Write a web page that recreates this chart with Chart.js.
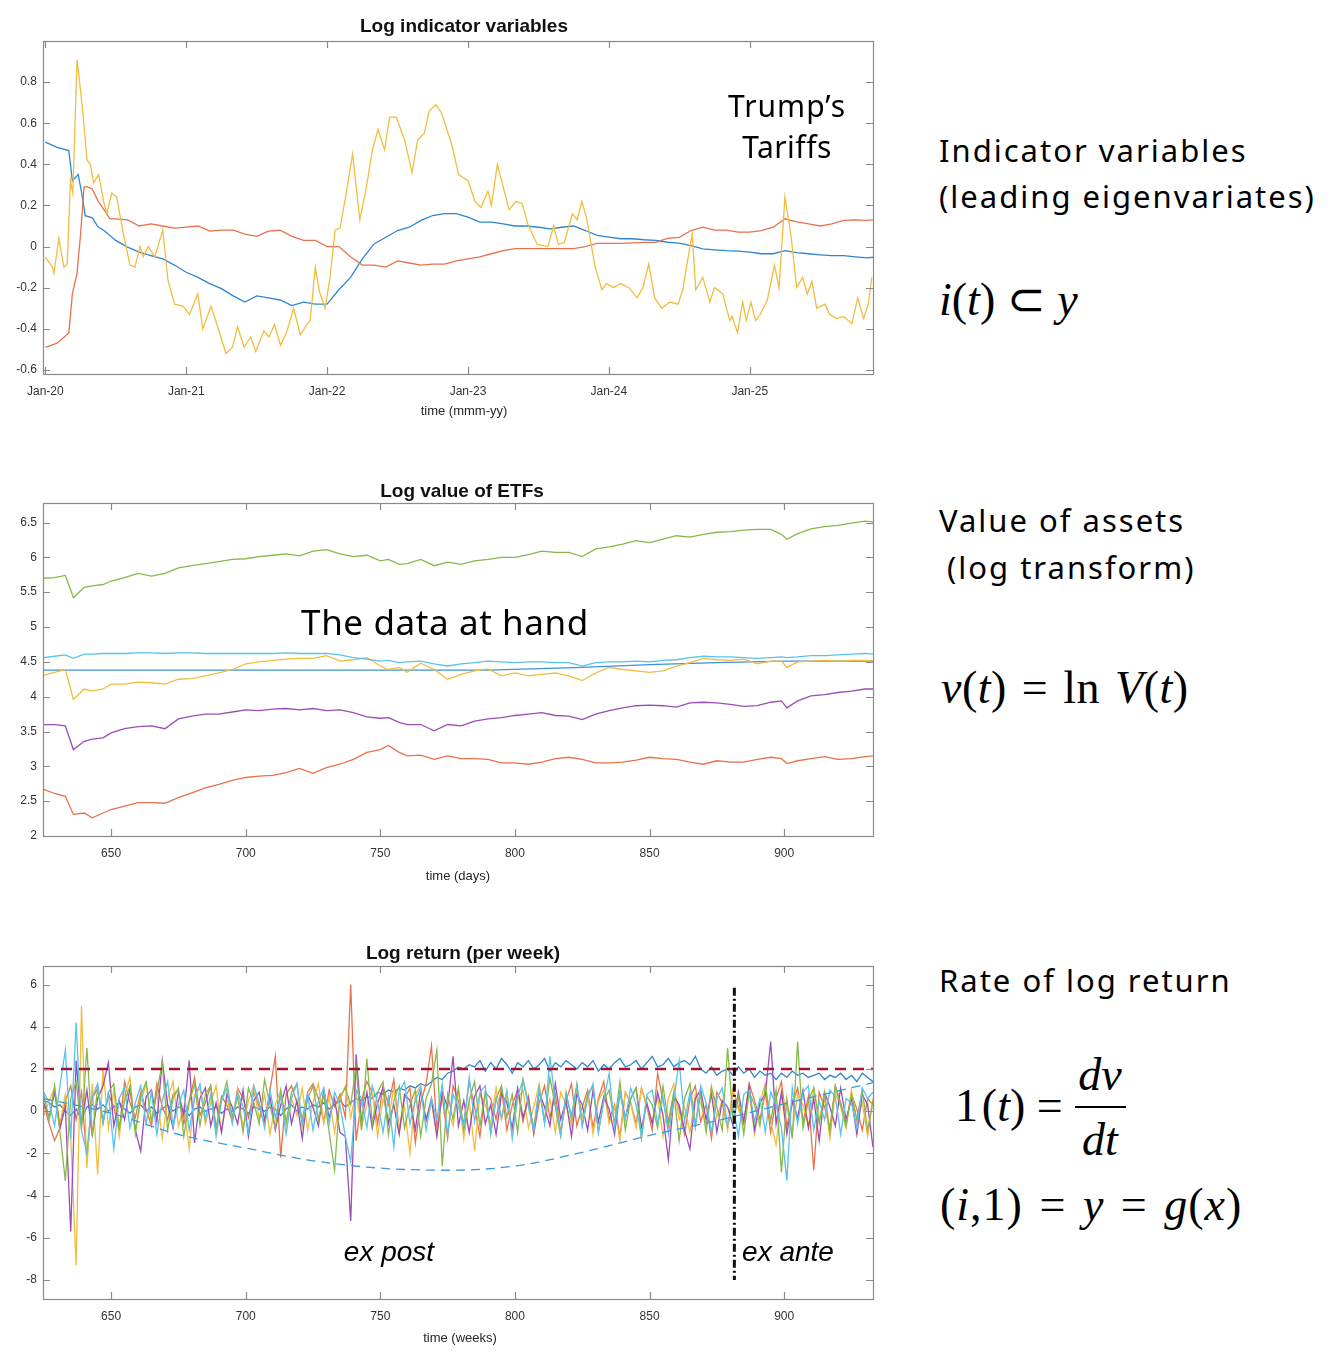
<!DOCTYPE html>
<html><head><meta charset="utf-8">
<script src="https://cdn.jsdelivr.net/npm/chart.js@4.4.1/dist/chart.umd.min.js"></script>
<style>
body{margin:0;background:#fff;width:1339px;height:1362px;position:relative;overflow:hidden;font-family:"Liberation Sans",Arial,sans-serif;}
canvas{position:absolute;left:0;}
.t{position:absolute;white-space:nowrap;color:#000;line-height:1;}
.c{transform:translate(-50%,-50%);}
.l{transform:translate(0,-50%);}
.ct{font-weight:bold;font-size:19px;color:#111;}
.at{font-size:13px;color:#262626;}
.side{font-family:"Noto Sans",sans-serif;font-size:31px;letter-spacing:2px;}
.ann{font-family:"Noto Sans",sans-serif;}
.it{font-family:"Liberation Sans",Arial,sans-serif;font-style:italic;font-size:28px;}
.math{font-family:"Liberation Serif","Times New Roman",serif;font-size:46px;}
.math i{font-style:italic;}
</style></head>
<body>
<canvas id="c1" width="890" height="400" style="top:30px"></canvas>
<canvas id="c2" width="890" height="400" style="top:492px"></canvas>
<canvas id="c3" width="890" height="400" style="top:955px"></canvas>

<div class="t c ct" style="left:464px;top:25px">Log indicator variables</div>
<div class="t c at" style="left:464px;top:410px">time (mmm-yy)</div>
<div class="t c ct" style="left:462px;top:490px">Log value of ETFs</div>
<div class="t c at" style="left:458px;top:875px">time (days)</div>
<div class="t c ct" style="left:463px;top:952px">Log return (per week)</div>
<div class="t c at" style="left:460px;top:1337px">time (weeks)</div>

<div class="t c ann" style="left:787px;top:106px;font-size:30px;letter-spacing:1px">Trump’s</div>
<div class="t c ann" style="left:787px;top:147px;font-size:30px;letter-spacing:0.5px">Tariffs</div>
<div class="t c ann" style="left:445px;top:621px;font-size:35px;letter-spacing:0.6px">The data at hand</div>
<div class="t c it" style="left:389px;top:1252px">ex post</div>
<div class="t c it" style="left:788px;top:1252px">ex ante</div>

<div class="t l side" style="left:939px;top:150px">Indicator variables</div>
<div class="t l side" style="left:939px;top:196px">(leading eigenvariates)</div>
<div class="t l math" style="left:939px;top:300px"><i>i</i>(<i>t</i>) ⊂ <i>y</i></div>
<div class="t l side" style="left:939px;top:520px">Value of assets</div>
<div class="t l side" style="left:947px;top:567px">(log transform)</div>
<div class="t l math" style="left:941px;top:688px;word-spacing:3px;letter-spacing:0.5px"><i>v</i>(<i>t</i>) = ln <i>V</i>(<i>t</i>)</div>
<div class="t l side" style="left:939px;top:980px">Rate of log return</div>
<div class="t l math" style="left:955px;top:1106px">1&#8202;(<i>t</i>) =</div>
<div class="t c math" style="left:1100px;top:1075px"><i>dv</i></div>
<div style="position:absolute;left:1075px;top:1106px;width:51px;height:2px;background:#000"></div>
<div class="t c math" style="left:1100px;top:1140px"><i>dt</i></div>
<div class="t l math" style="left:940px;top:1205px;word-spacing:4px;letter-spacing:1px">(<i>i</i>,1) = <i>y</i> = <i>g</i>(<i>x</i>)</div>

<script>
// ---------- Chart 1: Log indicator variables (x in months since Jan-20) ----------
const indTickMonths = [0, 12, 24, 36, 48, 60];
const indTickLabels = ['Jan-20', 'Jan-21', 'Jan-22', 'Jan-23', 'Jan-24', 'Jan-25'];
const indYTicks = [-0.6, -0.4, -0.2, 0, 0.2, 0.4, 0.6, 0.8];

const indBlueT = [0,1,2,2.3,2.8,3.1,3.4,4,4.5,5,6,7,8,9,10,11,12,13,14,15,16,17,18,19,20,21,22,23,24,25,26,27,28,29,30,31,32,33,34,35,36,37,38,39,40,41,42,43,44,45,46,47,48,49,50,51,52,53,54,55,56,57,58,59,60,61,62,63,64,65,66,67,68,69,70,70.5];
const indBlueV = [0.508,0.483,0.467,0.32,0.35,0.26,0.15,0.14,0.095,0.078,0.03,-0.003,-0.027,-0.044,-0.06,-0.09,-0.125,-0.15,-0.18,-0.205,-0.24,-0.27,-0.24,-0.25,-0.26,-0.287,-0.27,-0.28,-0.28,-0.21,-0.15,-0.06,0.013,0.045,0.078,0.094,0.127,0.151,0.16,0.16,0.143,0.119,0.119,0.11,0.10,0.10,0.094,0.086,0.094,0.10,0.078,0.054,0.046,0.038,0.038,0.033,0.03,0.021,0.017,0.005,-0.011,-0.016,-0.02,-0.022,-0.027,-0.035,-0.035,-0.02,-0.03,-0.035,-0.04,-0.044,-0.044,-0.05,-0.055,-0.052];

const indRedT = [0,1,2,2.3,2.7,3.0,3.3,3.6,4,4.5,5,5.5,6,7,8,9,10,11,12,13,14,15,16,17,18,19,20,21,22,23,24,25,26,27,28,29,30,31,32,33,34,35,36,37,38,39,40,41,42,43,44,45,46,47,48,49,50,51,52,53,54,55,56,57,58,59,60,61,62,63,64,65,66,67,68,69,70,70.5];
const indRedV = [-0.49,-0.47,-0.42,-0.23,-0.13,0.06,0.29,0.29,0.28,0.22,0.18,0.135,0.135,0.13,0.10,0.11,0.10,0.09,0.095,0.10,0.075,0.08,0.08,0.06,0.05,0.075,0.08,0.05,0.03,0.03,0.0,0.0,-0.05,-0.09,-0.09,-0.10,-0.07,-0.08,-0.09,-0.085,-0.085,-0.07,-0.06,-0.05,-0.035,-0.02,-0.01,-0.01,-0.01,-0.01,-0.01,-0.01,0.0,0.015,0.015,0.015,0.018,0.02,0.02,0.04,0.045,0.078,0.094,0.08,0.08,0.07,0.07,0.078,0.094,0.135,0.12,0.11,0.10,0.11,0.127,0.13,0.127,0.13];

const indYellowT = [0,0.59,0.73,1.15,1.58,1.86,2.14,2.34,2.70,3.13,3.55,3.83,4.11,4.54,4.96,5.24,5.66,6.08,6.65,7.21,7.63,8.06,8.34,8.76,9.32,10.0,10.45,11.01,11.72,12.28,12.99,13.41,14.11,14.68,15.38,15.94,16.37,16.93,17.49,17.92,18.62,19.04,19.52,20.03,20.54,21.15,21.72,22.28,22.56,22.99,23.35,23.83,24.25,24.68,25.1,25.66,26.17,26.79,27.35,27.86,28.34,28.9,29.32,29.89,30.59,31.24,31.72,32.28,32.7,33.27,33.75,34.6,35.2,36.0,36.6,37.1,37.7,38.0,38.5,39.0,39.5,40.1,40.6,41.1,41.9,42.8,43.3,43.7,44.2,44.9,45.3,45.7,46.1,46.8,47.4,47.8,48.4,49.0,49.7,50.4,50.9,51.4,51.9,52.5,53.2,53.9,54.3,54.7,55.1,55.4,56.0,56.6,57.0,57.7,58.3,58.5,58.96,59.4,59.7,60.1,60.5,60.9,61.5,62.1,62.5,63.0,63.5,64.0,64.5,64.9,65.3,65.7,66.4,66.8,67.4,68.0,68.7,69.2,69.7,70.1,70.4];
const indYellowV = [-0.05,-0.10,-0.13,0.04,-0.10,-0.085,0.32,0.26,0.91,0.69,0.42,0.40,0.31,0.35,0.22,0.16,0.26,0.24,0.06,-0.09,-0.10,0.0,-0.05,0.0,-0.05,0.08,-0.165,-0.28,-0.29,-0.33,-0.23,-0.40,-0.29,-0.39,-0.52,-0.49,-0.39,-0.49,-0.44,-0.51,-0.41,-0.44,-0.38,-0.48,-0.42,-0.30,-0.43,-0.38,-0.36,-0.10,-0.22,-0.30,-0.15,0.08,0.09,0.27,0.45,0.13,0.29,0.47,0.57,0.47,0.63,0.63,0.52,0.36,0.52,0.55,0.66,0.69,0.65,0.50,0.35,0.32,0.22,0.19,0.27,0.20,0.40,0.29,0.18,0.22,0.21,0.11,0.01,0.0,0.10,0.01,0.02,0.16,0.13,0.22,0.14,-0.09,-0.21,-0.18,-0.20,-0.18,-0.20,-0.25,-0.20,-0.085,-0.25,-0.30,-0.27,-0.28,-0.21,-0.07,0.06,-0.21,-0.15,-0.27,-0.20,-0.23,-0.36,-0.34,-0.42,-0.27,-0.36,-0.27,-0.36,-0.33,-0.26,-0.09,-0.20,0.24,0.06,-0.20,-0.15,-0.23,-0.17,-0.30,-0.28,-0.33,-0.35,-0.34,-0.375,-0.25,-0.35,-0.28,-0.15];

// ---------- Chart 2: Log value of ETFs (x in days) ----------
const dayTicks = [650, 700, 750, 800, 850, 900];
const etfYTicks = [2, 2.5, 3, 3.5, 4, 4.5, 5, 5.5, 6, 6.5];
const etfDays = [625,629,633,636,640,643,647,650,655,660,665,670,675,680,685,690,695,700,705,710,715,720,725,730,735,740,745,750,753,757,760,765,770,775,780,785,790,795,800,805,810,815,820,825,830,835,840,845,850,855,860,865,870,875,880,885,890,895,899,901,905,910,915,920,925,930,933];
const etfGreen = [5.70,5.71,5.74,5.42,5.57,5.59,5.61,5.66,5.71,5.77,5.73,5.77,5.85,5.88,5.91,5.94,5.97,5.98,6.01,6.03,6.05,6.02,6.09,6.11,6.05,6.01,6.03,5.95,5.97,5.90,5.91,5.97,5.88,5.93,5.90,5.95,5.97,6.00,6.00,6.04,6.09,6.07,6.07,6.01,6.12,6.15,6.19,6.24,6.21,6.26,6.31,6.29,6.33,6.36,6.37,6.39,6.40,6.40,6.33,6.26,6.34,6.41,6.44,6.46,6.49,6.52,6.51];
const etfCyan = [4.56,4.58,4.60,4.55,4.61,4.61,4.62,4.62,4.62,4.63,4.63,4.62,4.63,4.63,4.62,4.62,4.62,4.62,4.62,4.62,4.63,4.62,4.62,4.62,4.60,4.56,4.54,4.51,4.52,4.49,4.50,4.51,4.47,4.44,4.47,4.49,4.51,4.50,4.49,4.50,4.50,4.49,4.49,4.44,4.49,4.50,4.50,4.51,4.50,4.52,4.53,4.56,4.58,4.57,4.57,4.56,4.55,4.56,4.57,4.56,4.57,4.59,4.59,4.60,4.61,4.62,4.61];
const etfYellow = [4.31,4.35,4.39,3.96,4.11,4.08,4.11,4.18,4.18,4.21,4.20,4.18,4.25,4.26,4.30,4.34,4.39,4.47,4.50,4.52,4.54,4.55,4.55,4.59,4.51,4.53,4.56,4.44,4.39,4.42,4.35,4.48,4.39,4.25,4.32,4.37,4.40,4.30,4.34,4.30,4.32,4.34,4.30,4.23,4.34,4.42,4.39,4.37,4.35,4.37,4.44,4.49,4.55,4.53,4.52,4.54,4.47,4.51,4.51,4.42,4.50,4.51,4.52,4.51,4.52,4.52,4.51];
const etfPurple = [3.60,3.60,3.58,3.24,3.36,3.39,3.41,3.48,3.54,3.57,3.58,3.54,3.68,3.72,3.75,3.75,3.78,3.81,3.80,3.82,3.83,3.81,3.83,3.80,3.81,3.77,3.71,3.69,3.70,3.63,3.60,3.60,3.51,3.60,3.58,3.65,3.68,3.70,3.73,3.75,3.77,3.73,3.72,3.67,3.75,3.80,3.84,3.87,3.88,3.87,3.85,3.91,3.92,3.91,3.89,3.86,3.87,3.92,3.94,3.84,3.94,4.01,4.03,4.06,4.08,4.11,4.11];
const etfOrange = [2.67,2.61,2.57,2.31,2.33,2.26,2.33,2.38,2.43,2.48,2.48,2.47,2.55,2.62,2.69,2.74,2.80,2.84,2.86,2.87,2.91,2.97,2.90,2.98,3.03,3.10,3.20,3.24,3.30,3.20,3.15,3.16,3.10,3.15,3.11,3.11,3.10,3.05,3.05,3.03,3.06,3.11,3.13,3.10,3.05,3.05,3.06,3.09,3.13,3.11,3.10,3.06,3.03,3.08,3.06,3.06,3.10,3.13,3.11,3.04,3.08,3.11,3.14,3.10,3.11,3.14,3.15];
const etfFlatDays = [625, 790, 825, 850, 875, 900, 933];
const etfFlatBlue = [4.38, 4.38, 4.42, 4.46, 4.49, 4.51, 4.51];

// ---------- Chart 3: Log return (per week) ----------
const retYTicks = [-8, -6, -4, -2, 0, 2, 4, 6];
const retDays = Array.from({length: 155}, (_, i) => 625 + 2 * i);
const retOrange = [0.3,-0.6,-1.4,-0.8,0.5,1.2,-0.4,0.9,-2.3,0.6, 1.1,-0.5,0.8,0.2,-0.9,1.4,0.4,-0.3,0.9,0.1, -0.7,1.3,0.2,-0.4,0.8,1.0,-0.6,0.5,1.6,-0.2, 0.4,1.2,-0.8,0.7,0.3,-0.5,1.1,0.6,-0.3,0.9, 0.2,-0.6,1.0,2.6,-2.2,0.8,1.2,0.4,-0.4,0.9, 1.3,0.6,-0.5,1.0,0.2,0.8,-0.3,6.0,-1.4,0.5, 1.4,0.9,-0.6,1.2,0.3,1.5,-0.9,0.6,1.1,-1.5, 0.4,1.3,3.1,-0.8,0.7,-1.3,1.2,0.5,-0.6,1.4, 0.2,-1.2,0.9,0.6,-0.4,1.1,-0.9,0.3,1.0,-0.5, 0.7,-1.1,0.4,1.2,-0.3,0.8,-1.0,0.5,1.3,-0.7, 0.2,1.0,-0.8,0.6,1.4,-0.4,0.3,-1.2,0.9,0.4, -0.6,1.1,0.2,-0.9,1.8,0.5,-0.7,0.8,0.1,-1.1, 0.6,1.2,-0.5,0.3,-1.3,0.9,0.4,-0.8,1.0,0.2, -0.6,1.3,0.5,-0.4,0.9,-1.0,0.6,1.4,-0.7,0.3, 1.1,-0.5,0.7,-2.8,0.9,0.2,-0.8,1.2,0.4,-0.6, 0.8,0.1,-0.9,0.6,0.3];
const retYellow = [-0.2,0.5,1.1,-0.6,0.8,-1.2,-7.3,5.0,-2.7,1.3, -3.0,2.0,-0.8,1.0,-1.2,0.7,1.6,-0.9,0.4,1.3, -0.5,0.9,-1.3,0.6,1.4,-0.7,0.2,-1.8,0.8,1.1, -0.6,0.4,1.2,-1.0,0.6,-0.3,1.0,-0.8,0.5,1.2, -0.4,0.8,-1.1,0.3,1.0,-0.7,0.6,-0.2,1.1,-0.9, 0.4,1.3,-0.6,0.7,-1.0,0.5,1.2,-0.3,0.9,-0.8, 0.3,1.0,-1.2,0.6,-0.4,1.1,-0.9,0.2,-2.0,0.8, 1.2,-0.5,0.4,-1.1,0.9,0.1,-0.7,1.0,-1.3,0.5, -1.9,0.8,0.3,-0.6,1.1,-0.4,0.7,-1.2,0.6,1.0, -0.8,0.2,1.3,-0.5,0.6,-1.0,0.9,0.3,-0.7,1.2, -0.3,0.8,-1.1,0.5,1.0,-0.6,0.2,-1.4,0.9,0.4, -0.8,1.1,0.3,-0.5,0.7,-1.2,0.6,1.3,-0.4,0.2, -1.0,0.8,0.4,-0.7,1.2,-0.3,0.5,-0.9,1.0,0.1, -0.6,0.9,-1.1,0.4,1.3,-0.5,-1.6,0.7,0.2,-1.0, 0.8,0.3,-0.7,1.1,-0.4,0.6,-1.3,0.9,0.2,-0.8, 1.0,-0.5,0.4,-1.2,0.6];
const retPurple = [0.4,-0.3,0.9,-0.8,0.2,-5.7,2.4,-0.6,1.0,-1.1, 0.6,1.2,2.3,-0.7,0.5,-0.4,1.1,-0.9,-1.9,0.7, 1.0,-0.5,2.4,0.3,-0.8,0.9,-0.2,2.4,-1.5,0.6, 1.1,-0.7,0.4,-1.0,0.8,0.2,-0.6,1.0,-1.2,0.5, 0.9,-0.4,0.7,-0.9,0.3,1.2,-0.6,0.5,-1.3,0.8, 0.2,-0.7,1.0,-0.3,0.6,-1.0,-1.2,-5.2,2.7,-0.5, 0.9,-0.8,0.4,1.1,-0.6,0.3,-1.1,0.8,0.5,-0.9, 1.0,-0.4,0.6,-1.2,0.9,0.2,2.6,-0.7,0.5,-1.0, 0.7,1.2,-0.6,0.3,-1.1,0.8,0.4,-0.8,1.1,-0.3, 0.6,-1.0,0.9,0.2,-0.7,1.3,-0.4,0.5,-1.2,0.8, 0.3,-0.9,1.0,-0.5,0.7,0.1,-1.1,0.9,-0.3,0.6, 1.1,-0.8,0.4,-0.6,0.9,-0.2,-2.3,0.7,0.3,-0.9, -1.8,0.6,1.0,-0.4,0.8,-1.0,0.5,0.2,-0.7,0.9, -0.5,1.2,-0.9,0.4,0.8,3.3,-0.6,0.9,-1.1,0.5, -0.3,1.0,-0.8,0.6,-1.4,0.9,0.2,-0.7,1.1,-0.4, 0.6,-1.1,0.8,0.3,-1.7];
const retGreen = [0.8,-0.4,1.2,-1.0,-3.3,0.6,1.4,-0.9,3.0,-1.2, 1.1,-0.6,0.9,1.3,-0.8,0.5,1.2,-1.1,0.7,1.4, -0.5,0.9,2.3,-0.9,0.6,1.1,-1.2,0.4,1.3,-0.7, 0.8,1.2,-0.9,0.5,1.4,-0.3,0.7,-1.0,1.1,0.4, -0.6,1.5,0.3,-0.8,1.0,-0.5,0.9,1.3,-0.7,0.6, 1.2,-0.4,0.8,-1.0,-2.8,0.7,1.1,0.3,2.1,-0.9, 2.5,-0.6,0.9,1.4,-1.1,0.5,1.2,-0.8,0.3,1.0, -1.2,0.6,1.3,2.9,-2.6,0.8,-0.4,1.1,-0.9,0.5, 1.4,-0.7,0.9,-1.1,0.6,1.2,-0.3,0.8,-1.0,1.5, 0.4,-0.8,1.1,-0.5,1.6,0.2,-1.2,0.9,-0.4,1.3, -0.7,0.8,1.2,-1.0,0.5,1.0,-0.6,1.4,-0.9,0.6, 1.1,-1.3,0.7,0.3,-0.8,1.2,-0.5,0.9,-1.4,0.6, 1.3,-0.6,0.8,-1.0,1.1,0.2,-0.9,3.0,-0.4,0.7, -1.1,0.9,0.3,-0.7,1.2,-0.5,1.0,-2.9,0.6,-1.3, 3.3,-0.8,0.5,1.1,-0.6,0.9,-1.0,1.2,0.3,-0.7, 0.8,-0.4,1.0,-0.9,0.5];
const retCyan = [0.9,0.4,-0.7,1.2,2.9,-1.3,4.2,-0.9,-2.0,0.7, 1.3,-0.5,0.8,-1.8,0.6,1.1,-0.8,0.4,1.2,-0.6, 0.9,-1.1,0.5,1.4,-0.7,0.3,1.0,-0.9,0.6,1.3, -0.4,0.8,-1.2,0.5,1.1,-0.6,0.9,0.2,-1.0,1.2, 0.4,-0.8,1.0,-0.3,0.7,-1.1,0.6,1.3,-0.5,0.8, -0.9,0.5,1.1,-0.6,0.9,0.3,-1.2,-2.4,1.0,0.6, -0.8,1.2,0.4,-1.0,0.7,-1.7,0.9,1.4,-0.6,0.5, 1.1,-0.9,0.6,-0.4,1.3,-1.1,0.8,0.2,-0.7,1.6, -0.5,0.9,1.2,-1.0,0.6,-0.3,1.0,-1.3,0.7,1.5, 0.2,-0.9,1.1,-0.6,2.6,0.4,-1.1,0.8,-0.2,1.2, -0.7,0.6,1.3,-1.0,0.5,1.8,-0.8,0.9,-0.4,1.1, 0.3,-1.2,0.8,1.0,-0.6,0.7,-1.1,0.5,2.4,-0.5, 0.9,-0.8,1.2,0.4,-1.0,0.6,1.1,-0.7,0.3,-1.2, 0.8,1.0,-0.5,0.6,-1.0,0.9,0.3,-0.8,-3.3,1.1, -0.6,0.9,1.2,-0.9,0.5,-0.4,1.0,0.7,-1.1,0.6, 0.4,-0.8,1.1,0.6,0.9];
const retBlue = [0.5,0.4,0.2,0.3,0.0,-0.2,0.1,-0.4,0.2,0.3, 0.1,0.3,0.0,0.2,0.4,0.1,-0.1,0.2,0.3,0.0, 0.2,-0.1,0.1,0.3,0.0,0.2,0.1,-0.2,0.1,0.2, 0.0,0.1,0.2,-0.1,0.1,0.0,0.2,0.1,-0.1,0.2, 0.1,0.0,0.2,0.1,-0.2,0.1,0.3,0.0,0.2,0.1, 0.3,0.2,0.4,0.1,0.3,0.5,0.2,0.4,0.6,0.5, 0.7,0.6,0.9,0.8,1.0,0.9,1.1,1.0,1.2,1.1, 1.3,1.2,1.4,1.6,1.5,1.8,1.9,2.1,2.0,2.2, 2.1,2.4,1.9,2.3,2.0,2.5,2.2,1.8,2.3,2.1, 2.4,2.0,2.2,2.5,1.9,2.3,2.1,2.4,2.2,2.0, 2.3,2.1,2.4,1.9,2.2,2.0,2.3,2.5,2.1,2.2, 2.4,2.0,2.3,2.6,2.1,2.2,2.5,2.1,2.3,2.4, 2.2,2.6,2.0,1.8,2.1,1.7,1.9,2.0,1.7,2.1, 1.8,2.0,1.6,1.9,1.7,1.8,1.5,1.8,1.6,1.9, 1.7,1.8,1.6,1.7,1.8,1.5,1.7,1.6,1.8,1.5, 1.7,1.4,1.8,1.6,1.4];
const trendDays = [625, 650, 675, 700, 725, 750, 775, 800, 825, 850, 875, 900, 933];
const trendValues = [0.6, -0.1, -1.1, -1.75, -2.35, -2.7, -2.8, -2.6, -1.95, -1.15, -0.45, 0.35, 1.35];
const thresholdDays = [624.7, 933];
const thresholdValues = [2.0, 2.0];
const splitDays = [881.5, 881.5];
const splitValues = [5.85, -8.0];

// ---------- colours ----------
const C = {blue:'#2f86cf', orange:'#e8724c', yellow:'#f2bd3f', purple:'#9c4cb8', green:'#86b94a', cyan:'#57c3ee', red:'#a2142f'};

function pts(xs, ys) { return xs.map((x, i) => ({x: x, y: ys[i]})); }
function ds(xs, ys, color, extra) {
  return Object.assign({data: pts(xs, ys), borderColor: color, borderWidth: 1.3, pointRadius: 0, fill: false, tension: 0}, extra || {});
}

const boxPlugin = {
  id: 'matlabBox',
  afterDraw(chart) {
    const {ctx, chartArea: a} = chart;
    ctx.save();
    ctx.strokeStyle = '#8a8a8a';
    ctx.lineWidth = 1.2;
    ctx.strokeRect(a.left + 0.5, a.top + 0.5, a.right - a.left, a.bottom - a.top);
    const L = 7;
    ctx.beginPath();
    chart.scales.x.ticks.forEach(t => {
      const x = Math.round(chart.scales.x.getPixelForValue(t.value)) + 0.5;
      ctx.moveTo(x, a.bottom); ctx.lineTo(x, a.bottom - L);
      ctx.moveTo(x, a.top); ctx.lineTo(x, a.top + L);
    });
    chart.scales.y.ticks.forEach(t => {
      const y = Math.round(chart.scales.y.getPixelForValue(t.value)) + 0.5;
      ctx.moveTo(a.left, y); ctx.lineTo(a.left + L, y);
      ctx.moveTo(a.right, y); ctx.lineTo(a.right - L, y);
    });
    ctx.stroke();
    ctx.restore();
  }
};

function opts(xr, yr, xTicks, yTicks, xFmt, yFmt) {
  const tickFont = {family: '"Liberation Sans", Arial, sans-serif', size: 12};
  return {
    responsive: false, animation: false, devicePixelRatio: 1,
    layout: {padding: {top: 11, right: 17, left: 0, bottom: 0}},
    plugins: {legend: {display: false}, tooltip: {enabled: false}, title: {display: false}},
    scales: {
      x: {type: 'linear', min: xr[0], max: xr[1],
          grid: {display: false, drawTicks: false}, border: {display: false},
          afterBuildTicks: s => { s.ticks = xTicks.map(v => ({value: v})); },
          afterFit: s => { s.height = 56; s.paddingLeft = 0; s.paddingRight = 0; },
          ticks: {padding: 10, autoSkip: false, maxRotation: 0, color: '#333', font: tickFont,
                  callback: v => xFmt(v)}},
      y: {type: 'linear', min: yr[0], max: yr[1],
          grid: {display: false, drawTicks: false}, border: {display: false},
          afterBuildTicks: s => { s.ticks = yTicks.map(v => ({value: v})); },
          afterFit: s => { s.width = 43; s.paddingTop = 0; s.paddingBottom = 0; },
          ticks: {padding: 6, autoSkip: false, color: '#333', font: tickFont,
                  callback: v => yFmt(v)}}
    }
  };
}
const numFmt = v => String(Math.round(v * 10) / 10);

// Chart 1
new Chart(document.getElementById('c1'), {
  type: 'line',
  data: {datasets: [
    ds(indYellowT, indYellowV, C.yellow),
    ds(indRedT, indRedV, C.orange),
    ds(indBlueT, indBlueV, C.blue)
  ]},
  options: opts([-0.2, 70.5], [-0.62, 1.0], indTickMonths, indYTicks,
    v => indTickLabels[indTickMonths.indexOf(v)] || '', numFmt),
  plugins: [boxPlugin]
});

// Chart 2
new Chart(document.getElementById('c2'), {
  type: 'line',
  data: {datasets: [
    ds(etfDays, etfCyan, C.cyan),
    ds(etfDays, etfGreen, C.green),
    ds(etfDays, etfPurple, C.purple),
    ds(etfDays, etfYellow, C.yellow),
    ds(etfDays, etfOrange, C.orange),
    ds(etfFlatDays, etfFlatBlue, '#3f92d8')
  ]},
  options: opts([624.7, 933], [2, 6.78], dayTicks, etfYTicks, v => String(v), numFmt),
  plugins: [boxPlugin]
});

// Chart 3
new Chart(document.getElementById('c3'), {
  type: 'line',
  data: {datasets: [
    ds(splitDays, splitValues, '#1a0d0d', {borderWidth: 3, borderDash: [8, 3, 2, 3]}),
    ds(thresholdDays, thresholdValues, C.red, {borderWidth: 2.4, borderDash: [11, 7]}),
    ds(trendDays, trendValues, '#3a9ae0', {borderWidth: 1.3, borderDash: [9, 6], cubicInterpolationMode: 'monotone'}),
    ds(retDays, retCyan, C.cyan),
    ds(retDays, retGreen, C.green),
    ds(retDays, retPurple, C.purple),
    ds(retDays, retYellow, C.yellow),
    ds(retDays, retOrange, C.orange),
    ds(retDays, retBlue, C.blue)
  ]},
  options: opts([624.7, 933], [-8.9, 6.88], dayTicks, retYTicks, v => String(v), v => String(v)),
  plugins: [boxPlugin]
});
</script>
</body></html>
